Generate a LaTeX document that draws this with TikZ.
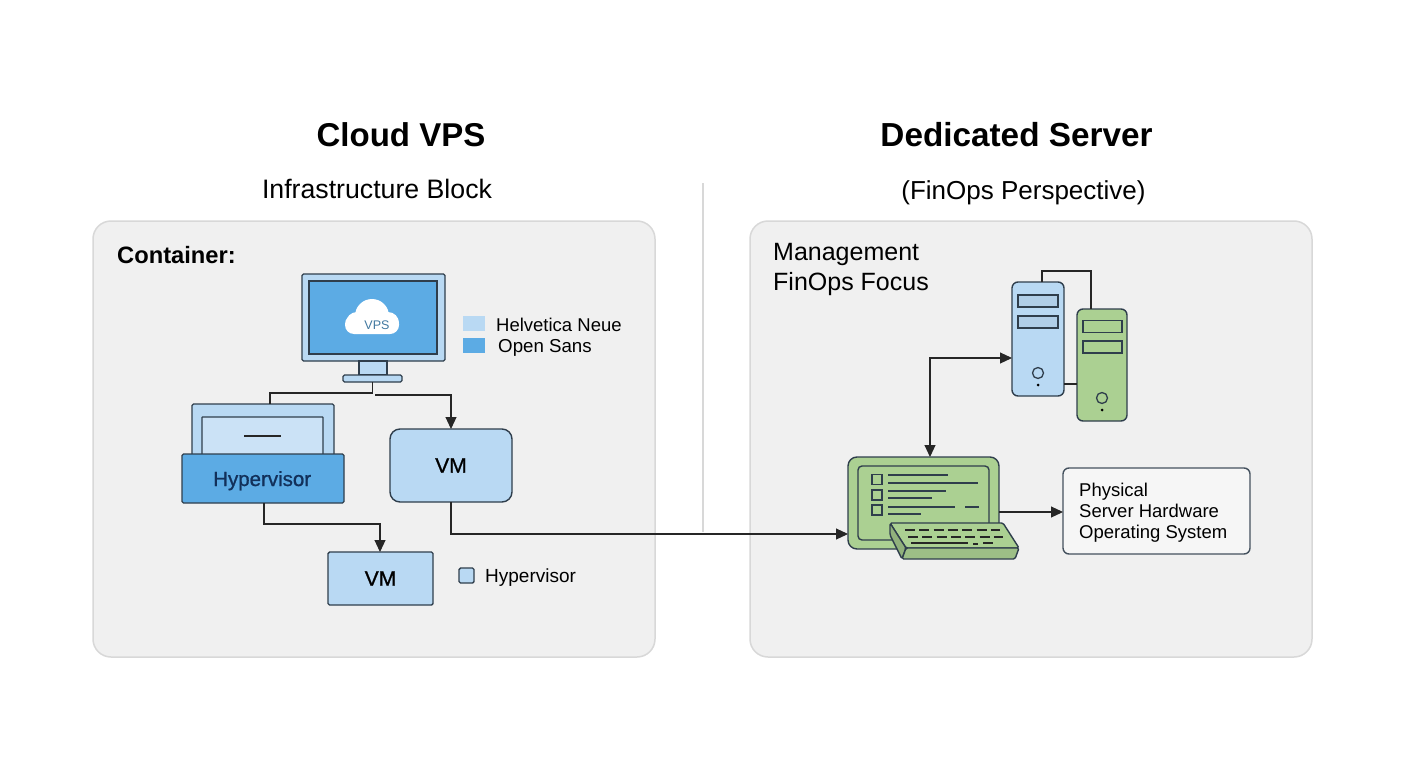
\documentclass[tikz,border=0pt]{standalone}
\usepackage{fontspec}
\setmainfont{Liberation Sans}
\usetikzlibrary{arrows.meta,positioning}
\definecolor{linecol}{HTML}{2F3E4C}
\definecolor{lightblue}{HTML}{B9D9F3}
\definecolor{midblue}{HTML}{5CABE4}
\definecolor{lightgreen}{HTML}{ABD092}
\definecolor{panelcol}{HTML}{F0F0F0}
\definecolor{panelline}{HTML}{D8D8D8}
\definecolor{navy}{HTML}{12305A}
\newcommand{\fs}[1]{\fontsize{#1}{#1}\selectfont}
\newcommand{\semi}{\addfontfeature{FakeBold=1}}
\tikzset{
  part/.style={draw=linecol, line width=1.4pt, inner sep=0pt, outer sep=0pt, rounded corners=1.5pt},
  panelbox/.style={draw=panelline, line width=1.5pt, fill=panelcol, rounded corners=18pt, minimum width=562, minimum height=436, inner sep=0pt},
  lab/.style={inner sep=0pt, anchor=base west, text=black},
  wire/.style={draw=black!85, line width=1.1pt},
  tip/.style={wire, -{Triangle[length=12pt,width=11pt]}},
  swatch/.style={inner sep=0pt, minimum width=22, minimum height=15}
}
\begin{document}
\begin{tikzpicture}[x=1pt,y=-1pt]
\useasboundingbox[fill=white] (0,0) rectangle (1408,768);

% headings
\node[inner sep=0pt] (titleleft) at (401,135) {\fs{33}\bfseries Cloud VPS};
\node[inner sep=0pt] (titleright) at (1016.5,135) {\fs{33.3}\bfseries Dedicated Server};
\node[inner sep=0pt] (subleft) at (377,189) {\fs{26.7}Infrastructure Block};
\node[inner sep=0pt] (subright) at (1023.5,193) {\fs{26}(FinOps Perspective)};
\coordinate (divtop) at (703,183);
\coordinate (divbot) at (703,532);
\draw[panelline, line width=1.2pt] (divtop) -- (divbot);

\node[panelbox] (panelleft) at (374,439) {};
\node[panelbox] (panelright) at (1031,439) {};
\node[lab] (container) at (117,263) {\fs{23.7}\bfseries Container:};
\node[lab, align=left, font=\fs{25}] (mgmt) at (773,290) {Management\\[5pt]FinOps Focus};

% monitor
\node[part, fill=lightblue, minimum width=143, minimum height=87] (monitor) at (373.5,317.5) {};
\node[part, fill=midblue, rounded corners=0pt, minimum width=128, minimum height=73] (screen) at (373,317.5) {};
\node[part, fill=lightblue, rounded corners=0pt, minimum width=28, minimum height=14] (stand) at (373,368) {};
\node[part, fill=lightblue, minimum width=59, minimum height=7] (base) at (372.5,378.5) {};
\fill[white, rounded corners=9pt] (345,334) rectangle (399,315);
\fill[white] (357,323) circle (11);
\fill[white] (388,323) circle (11);
\fill[white] (372,316) circle (17);
\node[inner sep=0pt, text=midblue!70!black] (vps) at (377,325) {\fs{12.5}VPS};

% legend
\node[swatch, fill=lightblue] (swatchone) at (474,323.5) {};
\node[swatch, fill=midblue] (swatchtwo) at (474,345.5) {};
\node[lab] (helv) at (496,331) {\fs{18.5}Helvetica Neue};
\node[lab] (open) at (498,352) {\fs{18.7}Open Sans};

% hypervisor stack
\node[part, fill=lightblue, minimum width=142, minimum height=52] (backpanel) at (263,430) {};
\node[part, fill=lightblue!75!white, rounded corners=0.5pt, minimum width=121, minimum height=38] (innerpanel) at (262.5,436) {};
\coordinate (dashl) at (244,436);
\coordinate (dashr) at (281,436);
\draw[wire] (dashl) -- (dashr);
\node[part, fill=midblue, minimum width=162, minimum height=49] (hyper) at (263,478.5) {};
\node[lab, text=navy] (hyperlab) at (213,486) {\fs{20.5}\semi Hypervisor};

% vms
\node[part, fill=lightblue, rounded corners=10pt, minimum width=122, minimum height=73] (vmtop) at (451,465.5) {\fs{21}\semi VM};
\node[part, fill=lightblue, minimum width=105, minimum height=53] (vmlow) at (380.5,578.5) {\fs{21}\semi VM};
\node[part, fill=lightblue, minimum width=15, minimum height=15] (swatchhyp) at (466.5,575.5) {};
\node[lab] (hyplab) at (485,582) {\fs{19}Hypervisor};

% towers
\node[part, fill=lightblue, rounded corners=6pt, minimum width=52, minimum height=114] (towerblue) at (1038,339) {};
\node[part, fill=lightgreen, rounded corners=6pt, minimum width=50, minimum height=112] (towergreen) at (1102,365) {};
\foreach \y in {301,322}
  \node[part, fill=lightblue!95!black, rounded corners=0pt, minimum width=40, minimum height=12] (slotb\y) at (1038,\y) {};
\foreach \y in {326.5,347}
  \node[part, fill=lightgreen, rounded corners=0pt, minimum width=39, minimum height=12] (slotg\y) at (1102.5,\y) {};
\draw[linecol, line width=1.3pt] (1038,373) circle (5.5);
\fill[black] (1038,385) circle (1.5);
\draw[linecol, line width=1.3pt] (1102,398) circle (5.5);
\fill[black] (1102,410) circle (1.5);

% console
\node[part, fill=lightgreen, rounded corners=9pt, minimum width=151, minimum height=92] (console) at (923.5,503) {};
\node[part, fill=lightgreen, rounded corners=4pt, minimum width=131, minimum height=74] (consolein) at (923.5,503) {};
\foreach \y in {479.5,495,510}
  \node[part, rounded corners=0pt, minimum width=10, minimum height=10] (check\y) at (877,\y) {};
\foreach \y/\xa/\xb in {475/888/948,483/888/978,491/888/946,498/888/932,507/888/955,507/965/979,514/888/921}
  \draw[line width=1.2pt, linecol] (\xa,\y) -- (\xb,\y);

% keyboard
\draw[part, fill=lightgreen, line join=round] (890,523) -- (1003,523) -- (1019,548) -- (906,548) -- cycle;
\draw[part, fill=lightgreen!85!black, line join=round] (890,523) -- (906,548) -- (902,559) -- (890,535) -- cycle;
\draw[part, fill=lightgreen!92!black, line join=round] (906,548) -- (1019,548) -- (1015,559) -- (902,559) -- cycle;
\draw[line width=2pt, black!85, dash pattern=on 10pt off 4.3pt] (905,530) -- (1000,530);
\draw[line width=2pt, black!85, dash pattern=on 10pt off 4.3pt] (908,536.5) -- (1003,536.5);
\draw[line width=1.5pt, black!85] (911,543) -- (968,543);
\draw[line width=2pt, black!85] (973,543.5) -- (978,543.5);
\draw[line width=2pt, black!85] (983,543) -- (993,543);

% physical box
\node[part, draw=linecol!90, fill=panelcol!60!white, rounded corners=6pt, minimum width=187, minimum height=86] (physical) at (1156.5,511) {};
\node[lab, align=left, font=\fs{18.5}] (physlab) at (1079,538) {Physical\\[2.5pt]Server Hardware\\[2.5pt]Operating System};

% connectors
\coordinate (backtop) at (270,404);
\coordinate (splitstart) at (375,395);
\coordinate (vmtoptop) at (451,429);
\coordinate (consoleleft) at (848,534);
\coordinate (consoleright) at (999,512);
\coordinate (physleft) at (1063,512);
\coordinate (consoletop) at (930,457);
\coordinate (towerleft) at (1012,358);
\coordinate (bluetop) at (1042,282);
\coordinate (greentop) at (1091,309);
\coordinate (blueright) at (1064,384);
\coordinate (greenleft) at (1077,384);
\coordinate (hyperlow) at (264,503);
\coordinate (vmlowtop) at (380,552);
\coordinate (vmbottom) at (451,502);
\draw[wire] (base.south) -- ++(0,11) -| (backtop);
\draw[tip] (splitstart) -| (vmtoptop);
\draw[tip] (hyperlow) -- ++(0,21) -| (vmlowtop);
\draw[tip] (vmbottom) |- (consoleleft);
\draw[tip] (consoleright) -- (physleft);
\draw[wire, {Triangle[length=12pt,width=11pt]}-{Triangle[length=12pt,width=11pt]}] (towerleft) -| (consoletop);
\draw[wire] (bluetop) -- ++(0,-11) -| (greentop);
\draw[wire] (blueright) -- (greenleft);
\end{tikzpicture}
\end{document}
